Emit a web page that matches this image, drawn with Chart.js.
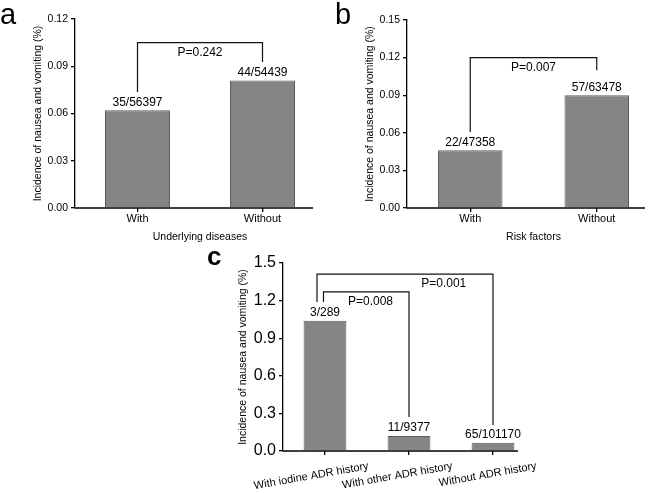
<!DOCTYPE html>
<html lang="en">
<head>
<meta charset="UTF-8">
<title>Incidence of nausea and vomiting</title>
<script src="https://cdn.jsdelivr.net/npm/chart.js"></script>
<style>
    body { margin: 0; background: #fff; width: 661px; height: 493px; position: relative; overflow: hidden; }
    canvas { position: absolute; }
    #chartA { left: 0; top: 0; }
    #chartB { left: 330px; top: 0; }
    #chartC { left: 200px; top: 245px; }
</style>
</head>
<body>
<canvas id="chartA" width="330" height="245"></canvas>
<canvas id="chartB" width="331" height="245"></canvas>
<canvas id="chartC" width="360" height="248"></canvas>
<script>
    // panel a - underlying diseases
    const categoriesA = ['With', 'Without'];
    const incidenceA = [0.062, 0.081];
    const countsA = ['35/56397', '44/54439'];
    const pValuesA = ['P=0.242'];

    // panel b - risk factors
    const categoriesB = ['With', 'Without'];
    const incidenceB = [0.046, 0.090];
    const countsB = ['22/47358', '57/63478'];
    const pValuesB = ['P=0.007'];

    // panel c - ADR history
    const categoriesC = ['With iodine ADR history', 'With other ADR history', 'Without ADR history'];
    const incidenceC = [1.04, 0.12, 0.066];
    const countsC = ['3/289', '11/9377', '65/101170'];
    const pValuesC = ['P=0.008', 'P=0.001'];

    const yTitle = 'Incidence of nausea and vomiting (%)';

    Chart.defaults.font.family = '"Liberation Sans", Arial, sans-serif';
    Chart.defaults.color = '#000';

    // labels, brackets, panel letter, shortened x axis line
    const annot = {
        id: 'annot',
        afterDraw(chart, args, o) {
            const ctx = chart.ctx;
            const xs = chart.scales.x, ys = chart.scales.y;
            const area = chart.chartArea;
            const bars = chart.getDatasetMeta(0).data;
            ctx.save();

            // x axis line
            ctx.strokeStyle = '#000';
            ctx.lineWidth = 1.3;
            ctx.beginPath();
            ctx.moveTo(area.left - 0.6, area.bottom);
            ctx.lineTo(area.right - o.axisTrim, area.bottom);
            ctx.stroke();

            // n/N above bars
            ctx.font = '12px "Liberation Sans"';
            ctx.fillStyle = '#000';
            ctx.textAlign = 'center';
            ctx.textBaseline = 'bottom';
            bars.forEach((b, i) => ctx.fillText(o.counts[i], b.x, b.y - 2));

            // significance brackets
            ctx.strokeStyle = '#111';
            ctx.lineWidth = 1.2;
            o.brackets.forEach((br, i) => {
                const x1 = xs.getPixelForValue(br.from) + (br.dx || 0);
                const x2 = xs.getPixelForValue(br.to);
                const top = ys.getPixelForValue(br.top);
                ctx.beginPath();
                ctx.moveTo(x1, ys.getPixelForValue(br.left));
                ctx.lineTo(x1, top);
                ctx.lineTo(x2, top);
                ctx.lineTo(x2, ys.getPixelForValue(br.right));
                ctx.stroke();
                ctx.textBaseline = 'middle';
                ctx.fillText(o.pValues[i], x1 + (x2 - x1) * br.at, top + 10);
            });

            // rotated category labels (panel c)
            if (o.rotated) {
                ctx.font = '11px "Liberation Sans"';
                ctx.textAlign = 'right';
                ctx.textBaseline = 'alphabetic';
                chart.data.labels.forEach((lab, i) => {
                    ctx.save();
                    ctx.translate(xs.getPixelForValue(i) + 44, area.bottom + 18);
                    ctx.rotate(-10 * Math.PI / 180);
                    ctx.fillText(lab, 0, 0);
                    ctx.restore();
                });
            }

            // panel letter
            ctx.font = o.letter.font;
            ctx.textAlign = 'left';
            ctx.textBaseline = 'alphabetic';
            ctx.fillText(o.letter.text, o.letter.x, o.letter.y);
            ctx.restore();
        }
    };

    function makeChart(id, o) {
        return new Chart(document.getElementById(id), {
            type: 'bar',
            data: {
                labels: o.labels,
                datasets: [{
                    data: o.values,
                    backgroundColor: '#858585',
                    borderColor: '#5c5c5c',
                    borderWidth: 1,
                    barPercentage: o.barPct,
                    categoryPercentage: 1
                }]
            },
            options: {
                responsive: false,
                animation: false,
                layout: { padding: o.padding },
                plugins: {
                    legend: { display: false },
                    tooltip: { enabled: false },
                    annot: o.annot
                },
                scales: {
                    x: {
                        offset: true,
                        grid: { offset: false, drawOnChartArea: false, tickLength: 4, color: '#000', lineWidth: 1.3 },
                        border: { display: false },
                        ticks: { display: !o.annot.rotated, font: { size: 11 }, padding: 0, maxRotation: 0, autoSkip: false },
                        title: { display: !!o.xTitle, text: o.xTitle, font: { size: 10.5 }, padding: { top: 0, bottom: 2 } },
                        afterFit: s => { s.height = o.xHeight; }
                    },
                    y: {
                        min: 0,
                        max: o.max,
                        ticks: { stepSize: o.step, font: { size: o.yFont }, padding: 3, callback: v => v.toFixed(o.dec) },
                        grid: { drawOnChartArea: false, tickLength: 4, color: '#000', lineWidth: 1.3 },
                        border: { display: true, color: '#000', width: 1.3 },
                        title: { display: true, text: yTitle, font: { size: 10.5 }, padding: { top: 0, bottom: 0 } },
                        afterFit: s => { s.width = o.yWidth; }
                    }
                }
            },
            plugins: [annot]
        });
    }

    makeChart('chartA', {
        labels: categoriesA, values: incidenceA, barPct: 0.52,
        padding: { left: 32, top: 19, right: 5, bottom: 0 },
        yWidth: 43, xHeight: 37, max: 0.12, step: 0.03, dec: 2, yFont: 10.5,
        xTitle: 'Underlying diseases',
        annot: {
            counts: countsA, pValues: pValuesA, axisTrim: 12,
            brackets: [{ from: 0, to: 1, top: 0.105, left: 0.0737, right: 0.0927, at: 0.5 }],
            letter: { text: 'a', x: 0, y: 24, font: '29px "Liberation Sans"' }
        }
    });

    makeChart('chartB', {
        labels: categoriesB, values: incidenceB, barPct: 0.51,
        padding: { left: 34, top: 20, right: 1, bottom: 0 },
        yWidth: 43, xHeight: 37, max: 0.15, step: 0.03, dec: 2, yFont: 10.5,
        xTitle: 'Risk factors',
        annot: {
            counts: countsB, pValues: pValuesB, axisTrim: 15,
            brackets: [{ from: 0, to: 1, top: 0.12, left: 0.0606, right: 0.110, at: 0.5 }],
            letter: { text: 'b', x: 5, y: 24, font: '29px "Liberation Sans"' }
        }
    });

    makeChart('chartC', {
        labels: categoriesC, values: incidenceC, barPct: 0.51,
        padding: { left: 37, top: 18, right: 25, bottom: 0 },
        yWidth: 46, xHeight: 42, max: 1.5, step: 0.3, dec: 1, yFont: 16,
        xTitle: '',
        annot: {
            counts: countsC, pValues: pValuesC, axisTrim: 17, rotated: true,
            brackets: [
                { from: 0, to: 1, top: 1.269, left: 1.189, right: 0.271, at: 0.55, dx: -1.5 },
                { from: 0, to: 2, top: 1.412, left: 1.189, right: 0.207, at: 0.72, dx: -8 }
            ],
            letter: { text: 'c', x: 7, y: 20, font: 'bold 26px "Liberation Sans"' }
        }
    });
</script>
</body>
</html>
